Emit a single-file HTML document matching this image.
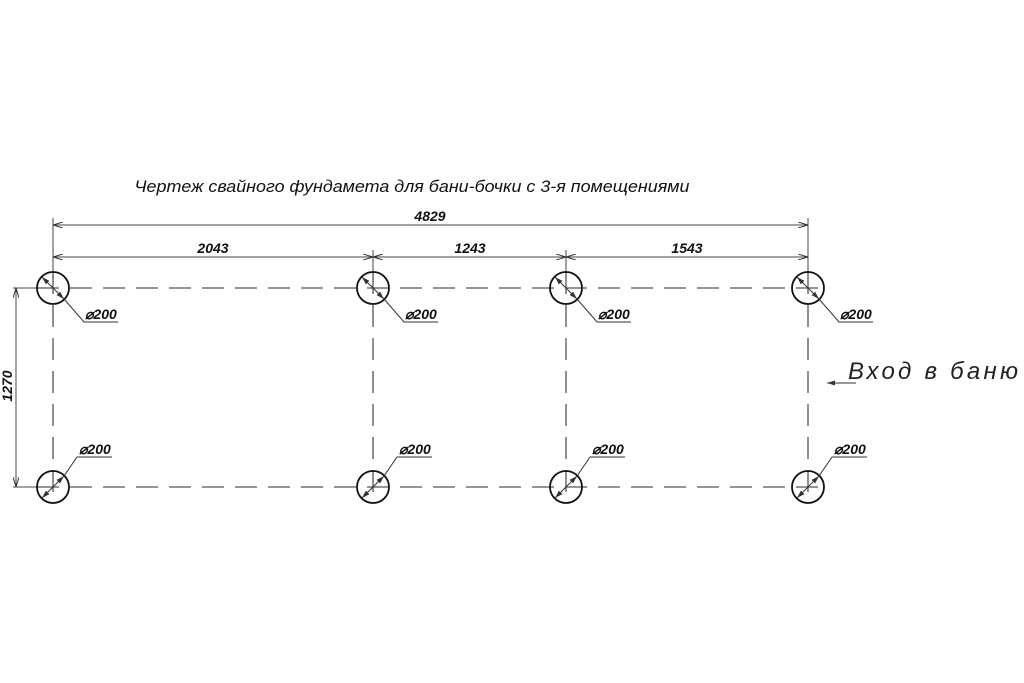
<!DOCTYPE html>
<html><head><meta charset="utf-8"><style>body{margin:0;background:#fff}svg{display:block}</style></head>
<body>
<svg width="1024" height="683" viewBox="0 0 1024 683" xmlns="http://www.w3.org/2000/svg" font-family="Liberation Sans, sans-serif">
<defs>
<marker id="a" viewBox="0 0 10 6" refX="10" refY="3" markerWidth="10" markerHeight="6" orient="auto-start-reverse" markerUnits="userSpaceOnUse"><path d="M0,0 L10,3 L0,6" fill="none" stroke="#333" stroke-width="1"/></marker>
<marker id="s" viewBox="0 0 8 5" refX="8" refY="2.5" markerWidth="8" markerHeight="5" orient="auto-start-reverse" markerUnits="userSpaceOnUse"><path d="M0,0 L8,2.5 L0,5z" fill="#333"/></marker>
</defs>
<text x="412" y="192" font-size="16.5" font-style="italic" text-anchor="middle" fill="#111" textLength="555" lengthAdjust="spacingAndGlyphs">Чертеж свайного фундамета для бани-бочки с 3-я помещениями</text>
<g stroke="#444" stroke-width="1" fill="none">
<line x1="53" y1="218" x2="53" y2="272"/>
<line x1="808" y1="218" x2="808" y2="272"/>
<line x1="373" y1="250" x2="373" y2="272"/>
<line x1="566" y1="250" x2="566" y2="272"/>
<line x1="53" y1="225" x2="808" y2="225" marker-start="url(#a)" marker-end="url(#a)"/>
<line x1="53" y1="257" x2="373" y2="257" marker-start="url(#a)" marker-end="url(#a)"/>
<line x1="373" y1="257" x2="566" y2="257" marker-start="url(#a)" marker-end="url(#a)"/>
<line x1="566" y1="257" x2="808" y2="257" marker-start="url(#a)" marker-end="url(#a)"/>
<line x1="13" y1="288" x2="37" y2="288"/>
<line x1="13" y1="487" x2="37" y2="487"/>
<line x1="16" y1="288" x2="16" y2="487" marker-start="url(#a)" marker-end="url(#a)"/>
</g>
<g stroke="#555" stroke-width="1.3" fill="none" stroke-dasharray="22,11">
<line x1="37" y1="288" x2="825" y2="288"/>
<line x1="37" y1="487" x2="825" y2="487"/>
<line x1="53" y1="272" x2="53" y2="503"/>
<line x1="373" y1="272" x2="373" y2="503"/>
<line x1="566" y1="272" x2="566" y2="503"/>
<line x1="808" y1="272" x2="808" y2="503"/>
</g>
<g font-size="14" font-weight="bold" font-style="italic" fill="#111" text-anchor="middle">
<text x="430" y="221">4829</text>
<text x="213" y="253">2043</text>
<text x="470" y="253">1243</text>
<text x="687" y="253">1543</text>
<text transform="translate(12,386) rotate(-90)">1270</text>
</g>
<g stroke="#111" fill="none" stroke-width="1.8">
<circle cx="53" cy="288" r="16"/><circle cx="373" cy="288" r="16"/><circle cx="566" cy="288" r="16"/><circle cx="808" cy="288" r="16"/>
<circle cx="53" cy="487" r="16"/><circle cx="373" cy="487" r="16"/><circle cx="566" cy="487" r="16"/><circle cx="808" cy="487" r="16"/>
</g>
<g stroke="#333" stroke-width="1" fill="none">
<line x1="42" y1="277" x2="64" y2="299" marker-start="url(#s)" marker-end="url(#s)"/><path d="M64,299 L84,322 L118,322"/>
<line x1="362" y1="277" x2="384" y2="299" marker-start="url(#s)" marker-end="url(#s)"/><path d="M384,299 L404,322 L438,322"/>
<line x1="555" y1="277" x2="577" y2="299" marker-start="url(#s)" marker-end="url(#s)"/><path d="M577,299 L597,322 L631,322"/>
<line x1="797" y1="277" x2="819" y2="299" marker-start="url(#s)" marker-end="url(#s)"/><path d="M819,299 L839,322 L873,322"/>
<line x1="42" y1="498" x2="64" y2="476" marker-start="url(#s)" marker-end="url(#s)"/><path d="M64,476 L77,457 L112,457"/>
<line x1="362" y1="498" x2="384" y2="476" marker-start="url(#s)" marker-end="url(#s)"/><path d="M384,476 L397,457 L432,457"/>
<line x1="555" y1="498" x2="577" y2="476" marker-start="url(#s)" marker-end="url(#s)"/><path d="M577,476 L590,457 L625,457"/>
<line x1="797" y1="498" x2="819" y2="476" marker-start="url(#s)" marker-end="url(#s)"/><path d="M819,476 L832,457 L867,457"/>
</g>
<g font-size="14" font-weight="bold" font-style="italic" fill="#111">
<text x="85" y="319">⌀200</text><text x="405" y="319">⌀200</text><text x="598" y="319">⌀200</text><text x="840" y="319">⌀200</text>
<text x="79" y="454">⌀200</text><text x="399" y="454">⌀200</text><text x="592" y="454">⌀200</text><text x="834" y="454">⌀200</text>
</g>
<line x1="856" y1="383" x2="827" y2="383" stroke="#333" stroke-width="1" marker-end="url(#s)"/>
<text x="848" y="379" font-size="24" font-style="italic" fill="#222" textLength="170" lengthAdjust="spacing">Вход в баню</text>
</svg>
</body></html>
